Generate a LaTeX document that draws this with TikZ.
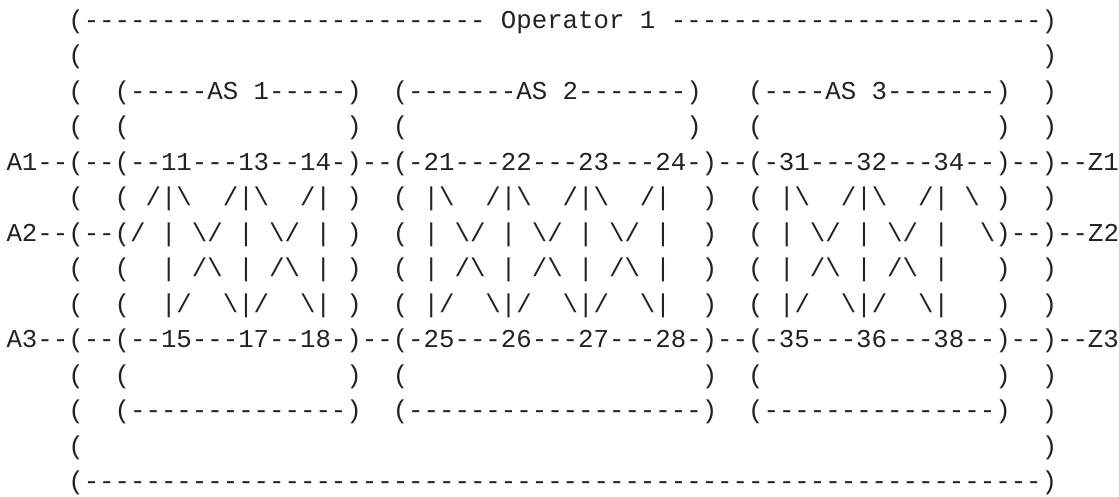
\documentclass[tikz,border=0pt]{standalone}
\usepackage{fontspec}
\setmonofont{Liberation Mono}
\ExplSyntaxOn
\cs_new:Npn \Rep #1#2 { \prg_replicate:nn {#1} {#2} }
\ExplSyntaxOff
\newcommand\bsl{\textbackslash}
\definecolor{ink}{HTML}{222222}
\begin{document}
\begin{tikzpicture}[ln/.style={anchor=base west, inner sep=0pt, outer sep=0pt, text=ink, font=\ttfamily\fontsize{25.75pt}{30pt}\selectfont}]
\useasboundingbox (0pt,0pt) rectangle (1119pt,-496pt);
\node[ln] (l0) at (6.5pt,-28.5pt) {~~~~(\Rep{26}{-}~Operator~1~\Rep{24}{-})};
\node[ln] (l1) at (6.5pt,-63.96pt) {~~~~(\Rep{62}{~})};
\node[ln] (l2) at (6.5pt,-99.42pt) {~~~~(~~(-----AS~1-----)~~(-------AS~2-------)~~~(----AS~3-------)~~)};
\node[ln] (l3) at (6.5pt,-134.88pt) {~~~~(~~(\Rep{14}{~})~~(\Rep{18}{~})~~~(\Rep{15}{~})~~)};
\node[ln] (l4) at (6.5pt,-170.34pt) {A1--(--(--11---13--14-)--(-21---22---23---24-)--(-31---32---34--)--)--Z1};
\node[ln] (l5) at (6.5pt,-205.8pt) {~~~~(~~(~/|\bsl~~/|\bsl~~/|~)~~(~|\bsl~~/|\bsl~~/|\bsl~~/|~~)~~(~|\bsl~~/|\bsl~~/|~\bsl~)~~)};
\node[ln] (l6) at (6.5pt,-241.26pt) {A2--(--(/~|~\bsl/~|~\bsl/~|~)~~(~|~\bsl/~|~\bsl/~|~\bsl/~|~~)~~(~|~\bsl/~|~\bsl/~|~~\bsl)--)--Z2};
\node[ln] (l7) at (6.5pt,-276.72pt) {~~~~(~~(~~|~/\bsl~|~/\bsl~|~)~~(~|~/\bsl~|~/\bsl~|~/\bsl~|~~)~~(~|~/\bsl~|~/\bsl~|~~~)~~)};
\node[ln] (l8) at (6.5pt,-312.18pt) {~~~~(~~(~~|/~~\bsl|/~~\bsl|~)~~(~|/~~\bsl|/~~\bsl|/~~\bsl|~~)~~(~|/~~\bsl|/~~\bsl|~~~)~~)};
\node[ln] (l9) at (6.5pt,-347.64pt) {A3--(--(--15---17--18-)--(-25---26---27---28-)--(-35---36---38--)--)--Z3};
\node[ln] (l10) at (6.5pt,-383.1pt) {~~~~(~~(\Rep{14}{~})~~(\Rep{19}{~})~~(\Rep{15}{~})~~)};
\node[ln] (l11) at (6.5pt,-418.56pt) {~~~~(~~(\Rep{14}{-})~~(\Rep{19}{-})~~(\Rep{15}{-})~~)};
\node[ln] (l12) at (6.5pt,-454.02pt) {~~~~(\Rep{62}{~})};
\node[ln] (l13) at (6.5pt,-489.48pt) {~~~~(\Rep{62}{-})};
\end{tikzpicture}
\end{document}
